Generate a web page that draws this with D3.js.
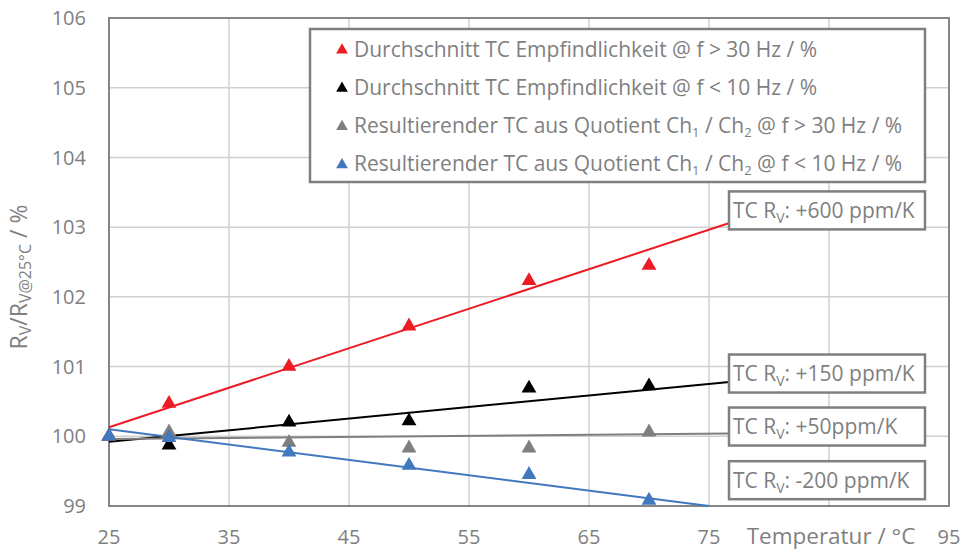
<!DOCTYPE html>
<html>
<head>
<meta charset="utf-8">
<script src="https://cdn.jsdelivr.net/npm/d3@7"></script>
<style>
  body { margin: 0; background: #fff; }
  svg text { font-family: "Open Sans", sans-serif; fill: #7f7f7f; }
</style>
</head>
<body>
<svg id="chart" width="962" height="552"></svg>
<script>
// temperatures of the measurements
var temps = [25, 30, 40, 50, 60, 70];
// series values in %
var redVals   = [100.0, 100.47, 101.0, 101.58, 102.23, 102.45];
var blackVals = [100.0, 99.87, 100.2, 100.22, 100.69, 100.72];
var grayVals  = [100.0, 100.06, 99.91, 99.83, 99.83, 100.06];
var blueVals  = [100.0, 99.98, 99.77, 99.58, 99.45, 99.08];

// trend lines [temp, value] start and end
var redTrend   = [[25, 100.13], [76.7, 103.06]];
var blackTrend = [[25, 99.92], [76.7, 100.78]];
var grayTrend  = [[25, 99.96], [76.7, 100.04]];
var blueTrend  = [[25, 100.1], [75, 99.0]];

var xTicks = [25, 35, 45, 55, 65, 75, 95];
var yTicks = [99, 100, 101, 102, 103, 104, 105, 106];

var legendNames = [
  [["Durchschnitt TC Empfindlichkeit @ f > 30 Hz / %"]],
  [["Durchschnitt TC Empfindlichkeit @ f < 10 Hz / %"]],
  [["Resultierender TC aus Quotient Ch"], ["1", true], [" / Ch"], ["2", true], [" @ f > 30 Hz / %"]],
  [["Resultierender TC aus Quotient Ch"], ["1", true], [" / Ch"], ["2", true], [" @ f < 10 Hz / %"]]
];
var boxLabels = [
  [["TC R"], ["V", true], [": +600 ppm/K"]],
  [["TC R"], ["V", true], [": +150 ppm/K"]],
  [["TC R"], ["V", true], [": +50ppm/K"]],
  [["TC R"], ["V", true], [": -200 ppm/K"]]
];
var boxValues = [103.24, 100.9, 100.14, 99.37]; // vertical centre of each label box

var colors = ["#ed1c24", "#000000", "#7f7f7f", "#4178be"];
var series = [redVals, blackVals, grayVals, blueVals];
var trends = [redTrend, blackTrend, grayTrend, blueTrend];

var svg = d3.select("#chart");
var margin = {top: 18, left: 109, right: 13, bottom: 46};
var W = 962, H = 552;

var x = d3.scaleLinear().domain([25, 95]).range([margin.left, W - margin.right]);
var y = d3.scaleLinear().domain([99, 106]).range([H - margin.bottom, margin.top]);

function richText(sel, parts, subSize, shift) {
  parts.forEach(function(p) {
    var t = sel.append("tspan").text(p[0]);
    if (p[1]) t.attr("baseline-shift", shift).style("font-size", subSize + "px");
    else t.attr("baseline-shift", 0);
  });
}

// grid
svg.append("g")
  .selectAll("line.v")
  .data(d3.range(35, 95, 10))
  .join("line")
  .attr("x1", d => x(d)).attr("x2", d => x(d))
  .attr("y1", y(99)).attr("y2", y(106))
  .attr("stroke", "#d0d0d0").attr("stroke-width", 1.5);

svg.append("g")
  .selectAll("line.h")
  .data(yTicks.slice(1, -1))
  .join("line")
  .attr("x1", x(25)).attr("x2", x(95))
  .attr("y1", d => y(d)).attr("y2", d => y(d))
  .attr("stroke", "#d0d0d0").attr("stroke-width", 1.5);

// plot border
svg.append("rect")
  .attr("x", x(25)).attr("y", y(106))
  .attr("width", x(95) - x(25)).attr("height", y(99) - y(106))
  .attr("fill", "none").attr("stroke", "#868686").attr("stroke-width", 2);

// y tick labels
svg.append("g")
  .selectAll("text")
  .data(yTicks)
  .join("text")
  .attr("x", 86).attr("y", d => y(d))
  .attr("dy", "0.36em")
  .attr("text-anchor", "end")
  .style("font-size", "20px")
  .text(d => d);

// x tick labels
svg.append("g")
  .selectAll("text")
  .data(xTicks)
  .join("text")
  .attr("x", d => x(d)).attr("y", 544)
  .attr("text-anchor", "middle")
  .style("font-size", "20px")
  .text(d => d);

svg.append("text")
  .attr("x", x(85) + 2).attr("y", 544)
  .attr("text-anchor", "middle")
  .style("font-size", "22.5px")
  .text("Temperatur / °C");

// y axis title
var yt = svg.append("text")
  .attr("transform", "translate(27," + 277 + ") rotate(-90)")
  .attr("text-anchor", "middle")
  .style("font-size", "23px");
richText(yt, [["R"], ["V", true], ["/R"], ["V@25°C", true], [" / %"]], 16, -4);

// trend lines
var line = d3.line().x(d => x(d[0])).y(d => y(d[1]));
svg.append("g")
  .selectAll("path")
  .data(trends)
  .join("path")
  .attr("d", d => line(d))
  .attr("fill", "none")
  .attr("stroke", (d, i) => colors[i])
  .attr("stroke-width", 2);

// markers
var tri = d3.symbol().type(d3.symbolTriangle).size(95);
series.forEach(function(vals, i) {
  svg.append("g")
    .selectAll("path")
    .data(vals)
    .join("path")
    .attr("d", tri)
    .attr("fill", colors[i])
    .attr("transform", (d, j) => "translate(" + x(temps[j]) + "," + y(d) + ")");
});

// legend
var lg = svg.append("g");
lg.append("rect")
  .attr("x", 310).attr("y", 29).attr("width", 615).attr("height", 153)
  .attr("fill", "#fff").attr("stroke", "#7f7f7f").attr("stroke-width", 2.5);
legendNames.forEach(function(parts, i) {
  var cy = 49 + i * 38.3;
  lg.append("path")
    .attr("d", d3.symbol().type(d3.symbolTriangle).size(60))
    .attr("fill", colors[i])
    .attr("transform", "translate(342," + (cy + 1) + ")");
  var t = lg.append("text")
    .attr("x", 354).attr("y", cy).attr("dy", "0.36em")
    .style("font-size", "21px");
  richText(t, parts, 13, -4);
});

// TC label boxes
boxLabels.forEach(function(parts, i) {
  var cy = y(boxValues[i]);
  var g = svg.append("g");
  g.append("rect")
    .attr("x", 729).attr("y", cy - 19).attr("width", 196).attr("height", 38)
    .attr("fill", "#fff").attr("stroke", "#7f7f7f").attr("stroke-width", 2.5);
  var t = g.append("text")
    .attr("x", 733).attr("y", cy).attr("dy", "0.36em")
    .style("font-size", "21px");
  richText(t, parts, 14, -5);
});
</script>
</body>
</html>
